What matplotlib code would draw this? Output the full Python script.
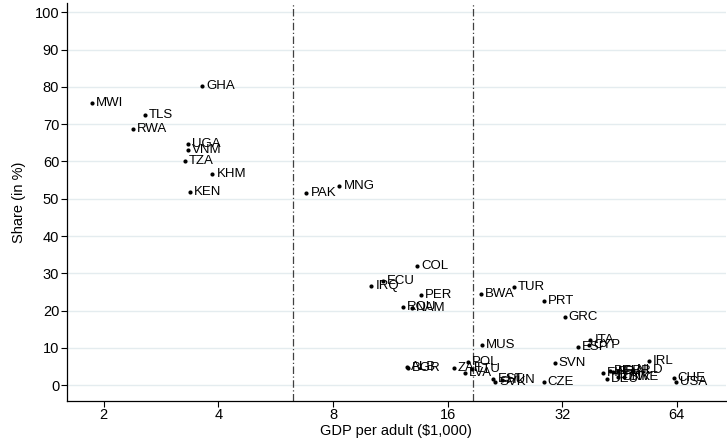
import matplotlib
matplotlib.use("Agg")
import matplotlib.pyplot as plt
import numpy as np

plt.rcParams['font.family'] = ['Liberation Sans', 'DejaVu Sans']

countries = ["MWI", "TLS", "RWA", "GHA", "UGA", "VNM", "TZA", "KHM", "KEN",
             "PAK", "MNG", "COL", "ECU", "IRQ", "PER", "ROU", "NAM",
             "ALB", "BGR", "ZAF", "POL", "LVA", "LTU", "EST", "SVK", "HUN",
             "MUS", "BWA", "TUR", "PRT", "GRC", "ITA", "CYP", "ESP", "SVN", "CZE",
             "IRL", "FIN", "BEL", "FRA", "GBR", "NLD", "DEU", "DNK", "SWE",
             "CHE", "USA"]
gdp = [1.86, 2.56, 2.38, 3.63, 3.32, 3.32, 3.26, 3.86, 3.36,
       6.81, 8.32, 13.3, 10.8, 10.1, 13.6, 12.2, 12.9,
       12.5, 12.6, 16.6, 18.1, 17.8, 18.6, 21.1, 21.3, 22.3,
       19.7, 19.6, 23.9, 28.7, 32.5, 37.9, 37.7, 35.2, 30.6, 28.6,
       54.0, 41.0, 42.7, 43.6, 45.0, 49.1, 41.9, 45.0, 46.5,
       62.8, 63.6]
share = [75.7, 72.5, 68.7, 80.3, 64.6, 63.1, 60.1, 56.7, 51.9,
         51.6, 53.5, 32.0, 28.0, 26.5, 24.1, 20.9, 20.7,
         4.9, 4.7, 4.6, 6.1, 3.3, 4.4, 1.6, 0.9, 1.3,
         10.7, 24.4, 26.3, 22.7, 18.3, 12.2, 10.7, 10.2, 5.8, 0.75,
         6.4, 3.3, 3.9, 3.6, 3.9, 4.0, 1.7, 2.3, 2.2,
         1.9, 0.8]
thresholds = [6.3, 18.7]
xticks = [2, 4, 8, 16, 32, 64]
yticks = list(range(0, 101, 10))

fig = plt.figure(figsize=(7.27, 4.38), dpi=100)
ax = fig.add_axes([0.092, 0.085, 0.906, 0.908])

for t in yticks:
    ax.axhline(t, color='#E4ECEF', lw=1.0, zorder=0)
for th in thresholds:
    ax.axvline(th, color='#404040', lw=0.9, ls=(0, (6, 2, 1, 2)), zorder=1)

ax.scatter(gdp, share, s=9, color='black', zorder=3, linewidths=0)
for c, x, y in zip(countries, gdp, share):
    ax.annotate(c, (x, y), xytext=(3, 0), textcoords='offset points',
                ha='left', va='center', fontsize=9.5, color='black', zorder=4)

ax.set_xscale('log', base=2)
ax.set_xlim(1.6, 86)
ax.set_ylim(-4.2, 102.5)
ax.set_xticks(xticks)
ax.set_xticklabels([str(v) for v in xticks])
ax.minorticks_off()
ax.set_yticks(yticks)
ax.set_yticklabels([str(v) for v in yticks])
ax.tick_params(axis='both', labelsize=10.5, length=4, width=0.8, direction='out',
               color='black', pad=1.5)
for s in ['top', 'right']:
    ax.spines[s].set_visible(False)
for s in ['left', 'bottom']:
    ax.spines[s].set_linewidth(0.9)

ax.set_xlabel('GDP per adult ($1,000)', fontsize=10.5, labelpad=1)
ax.set_ylabel('Share (in %)', fontsize=10.5, labelpad=6)

fig.savefig('out.png', dpi=100)
